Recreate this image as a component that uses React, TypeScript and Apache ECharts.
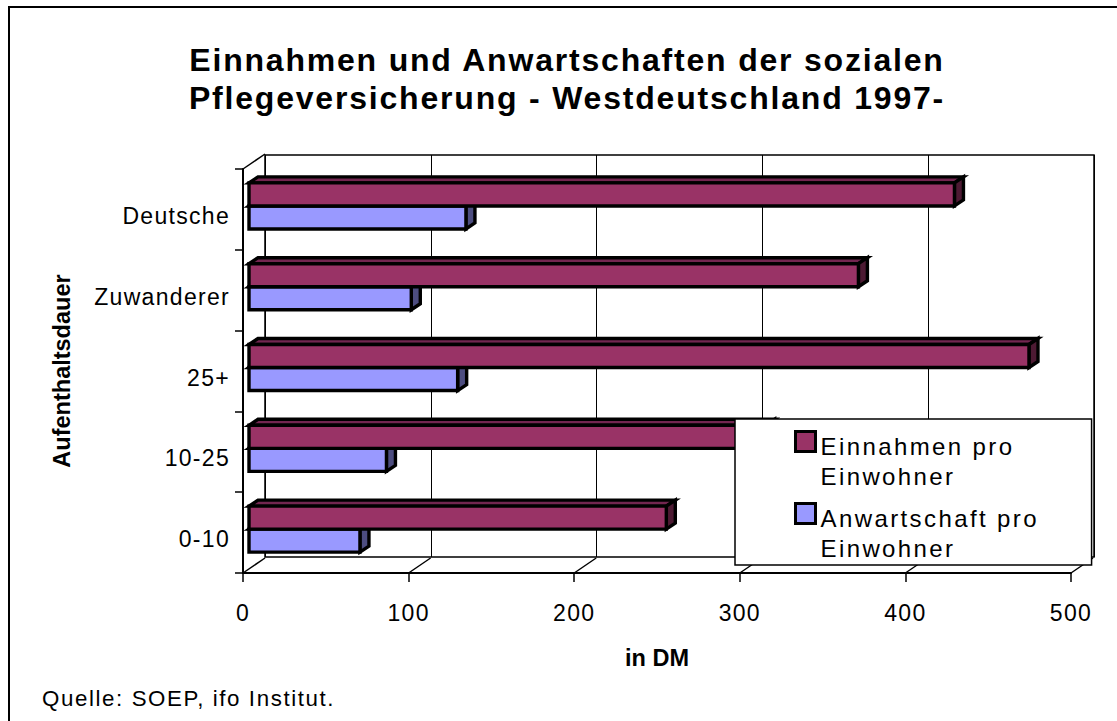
import React, { useEffect, useRef } from "react";
import * as echarts from "echarts";

const categories = ["Deutsche", "Zuwanderer", "25+", "10-25", "0-10"];
const einnahmen = [426, 368, 471, 312, 252];
const anwartschaft = [131, 98, 126, 83, 67];
const xTicks = [0, 100, 200, 300, 400, 500];
const titleText = "Einnahmen und Anwartschaften der sozialen\nPflegeversicherung - Westdeutschland 1997-";
const nameEinnahmen = "Einnahmen pro\nEinwohner";
const nameAnwartschaft = "Anwartschaft pro\nEinwohner";
const sourceText = "Quelle: SOEP, ifo Institut.";

const FONT = '"Liberation Sans", Arial, sans-serif';
const WALL_DX = 22;
const WALL_DY = -15;
const BAR_DX = 9;
const BAR_DY = -6;
const FRONT_X = 6;

const KEY_ICON = "path://M0 0H10V10H0Z M0 30L0 30";

function barRender(offsetBand: number, face: string, top: string, side: string) {
  return (params: any, api: any) => {
    const value = api.value(0);
    const idx = api.value(1);
    const band = api.size([0, 1])[1];
    const center = api.coord([0, idx]);
    const end = api.coord([value, idx]);
    const h = band * 0.285;
    const x0 = center[0] + FRONT_X;
    const x1 = end[0] + FRONT_X;
    const y0 = center[1] - band * 0.043 + offsetBand * h;
    const y1 = y0 + h;
    const line = { stroke: "#000", lineWidth: 3.4, lineJoin: "miter" };
    return {
      type: "group",
      children: [
        {
          type: "polygon",
          shape: { points: [[x0, y0], [x0 + BAR_DX, y0 + BAR_DY], [x1 + BAR_DX, y0 + BAR_DY], [x1, y0]] },
          style: { fill: top, ...line },
        },
        {
          type: "polygon",
          shape: { points: [[x1, y0], [x1 + BAR_DX, y0 + BAR_DY], [x1 + BAR_DX, y1 + BAR_DY], [x1, y1]] },
          style: { fill: side, ...line },
        },
        {
          type: "rect",
          shape: { x: x0, y: y0, width: x1 - x0, height: y1 - y0 },
          style: { fill: face, ...line },
        },
      ],
    };
  };
}

function depthRender(params: any, api: any) {
  const t = api.value(0);
  const band = api.size([0, 1])[1];
  const p = api.coord([t, categories.length - 1]);
  const yBottom = p[1] + band / 2;
  const children: any[] = [
    {
      type: "line",
      shape: { x1: p[0], y1: yBottom, x2: p[0] + WALL_DX, y2: yBottom + WALL_DY },
      style: { stroke: "#000", lineWidth: 1.5 },
    },
  ];
  if (t === 0) {
    const q = api.coord([0, 0]);
    const yTop = q[1] - band / 2;
    children.push({
      type: "line",
      shape: { x1: q[0], y1: yTop, x2: q[0] + WALL_DX, y2: yTop + WALL_DY },
      style: { stroke: "#000", lineWidth: 1.5 },
    });
  }
  return { type: "group", children };
}

export default function App() {
  const ref = useRef<HTMLDivElement>(null);
  useEffect(() => {
    const chart = echarts.init(ref.current!, undefined, { renderer: "svg" });
    chart.setOption({
      animation: false,
      backgroundColor: "#fff",
      textStyle: { fontFamily: FONT },
      title: {
        text: titleText,
        left: 562,
        top: 36,
        textAlign: "center",
        textStyle: { fontFamily: FONT, fontSize: 32, fontWeight: "bold", lineHeight: 38, color: "#000" },
      },
      grid: [
        { left: 243, top: 169, width: 828, height: 404 },
        { left: 265, top: 155, width: 829, height: 402, show: true, borderColor: "#000", borderWidth: 1.5, backgroundColor: "#fff" },
      ],
      xAxis: [
        {
          type: "value",
          gridIndex: 0,
          min: 0,
          max: 500,
          interval: 100,
          splitLine: { show: false },
          axisLine: { show: true, lineStyle: { color: "#000", width: 2 } },
          axisTick: { show: true, length: 9, lineStyle: { color: "#000", width: 1.5 } },
          axisLabel: { color: "#000", fontSize: 23, fontFamily: FONT, margin: 28 },
          name: "in DM",
          nameLocation: "middle",
          nameGap: 73,
          nameTextStyle: { color: "#000", fontSize: 23.5, fontWeight: "bold", fontFamily: FONT },
        },
        {
          type: "value",
          gridIndex: 1,
          min: 0,
          max: 500,
          interval: 100,
          splitLine: { show: true, lineStyle: { color: "#000", width: 1 } },
          axisLine: { show: false },
          axisTick: { show: false },
          axisLabel: { show: false },
        },
      ],
      yAxis: [
        {
          type: "category",
          gridIndex: 0,
          data: categories,
          inverse: true,
          axisLine: { show: true, onZero: false, lineStyle: { color: "#000", width: 2 } },
          axisTick: { show: true, length: 8, lineStyle: { color: "#000", width: 1.5 } },
          axisLabel: { color: "#000", fontSize: 23, fontFamily: FONT, margin: 13, verticalAlign: "top", lineHeight: 13 },
          name: "Aufenthaltsdauer",
          nameLocation: "middle",
          nameGap: 169,
          nameRotate: 90,
          nameTextStyle: { color: "#000", fontSize: 23.5, fontWeight: "bold", fontFamily: FONT },
        },
        {
          type: "category",
          gridIndex: 1,
          data: categories,
          inverse: true,
          axisLine: { show: false },
          axisTick: { show: false },
          axisLabel: { show: false },
        },
      ],
      legend: {
        left: 735,
        top: 419,
        orient: "vertical",
        align: "left",
        backgroundColor: "#fff",
        borderColor: "#000",
        borderWidth: 1.5,
        padding: [11, 91, 0, 59],
        itemWidth: 20,
        itemHeight: 60,
        itemGap: 9,
        selectedMode: false,
        textStyle: { color: "#000", fontSize: 24, lineHeight: 30, fontFamily: FONT },
        data: [
          { name: nameEinnahmen, icon: KEY_ICON, itemStyle: { color: "#993366", borderColor: "#000", borderWidth: 3 } },
          { name: nameAnwartschaft, icon: KEY_ICON, itemStyle: { color: "#9999ff", borderColor: "#000", borderWidth: 3 } },
        ],
      },
      series: [
        {
          type: "custom",
          name: "depth",
          xAxisIndex: 0,
          yAxisIndex: 0,
          silent: true,
          renderItem: depthRender,
          data: xTicks.map((t) => [t]),
          encode: { x: 0 },
          z: 1,
        },
        {
          type: "custom",
          name: nameAnwartschaft,
          xAxisIndex: 0,
          yAxisIndex: 0,
          renderItem: barRender(0, "#9999ff", "#7373bf", "#4d4d80"),
          data: anwartschaft.map((v, i) => [v, i]),
          encode: { x: 0, y: 1 },
          itemStyle: { color: "#9999ff" },
          z: 2,
        },
        {
          type: "custom",
          name: nameEinnahmen,
          xAxisIndex: 0,
          yAxisIndex: 0,
          renderItem: barRender(-1, "#993366", "#732650", "#4d1a33"),
          data: einnahmen.map((v, i) => [v, i]),
          encode: { x: 0, y: 1 },
          itemStyle: { color: "#993366" },
          z: 3,
        },
      ],
      graphic: [
        { type: "line", z: 10, shape: { x1: 8, y1: 7, x2: 1117, y2: 7 }, style: { stroke: "#000", lineWidth: 2 } },
        { type: "line", z: 10, shape: { x1: 9, y1: 6, x2: 9, y2: 721 }, style: { stroke: "#000", lineWidth: 2 } },
        {
          type: "text",
          z: 10,
          x: 42,
          y: 698,
          style: { text: sourceText, fill: "#000", font: `22.3px ${FONT}`, textVerticalAlign: "middle" },
        },
      ],
    });
    return () => chart.dispose();
  }, []);
  return (
    <>
      <style>{`body{margin:0}
svg text{letter-spacing:1.6px}
svg text[style*="32px"]{letter-spacing:1.8px}
svg text[style*="23px"]{letter-spacing:1.3px}
svg text[style*="23.5px"]{letter-spacing:0}
svg text[style*="24px"]{letter-spacing:2.4px}`}</style>
      <div ref={ref} style={{ width: 1117, height: 721 }} />
    </>
  );
}
